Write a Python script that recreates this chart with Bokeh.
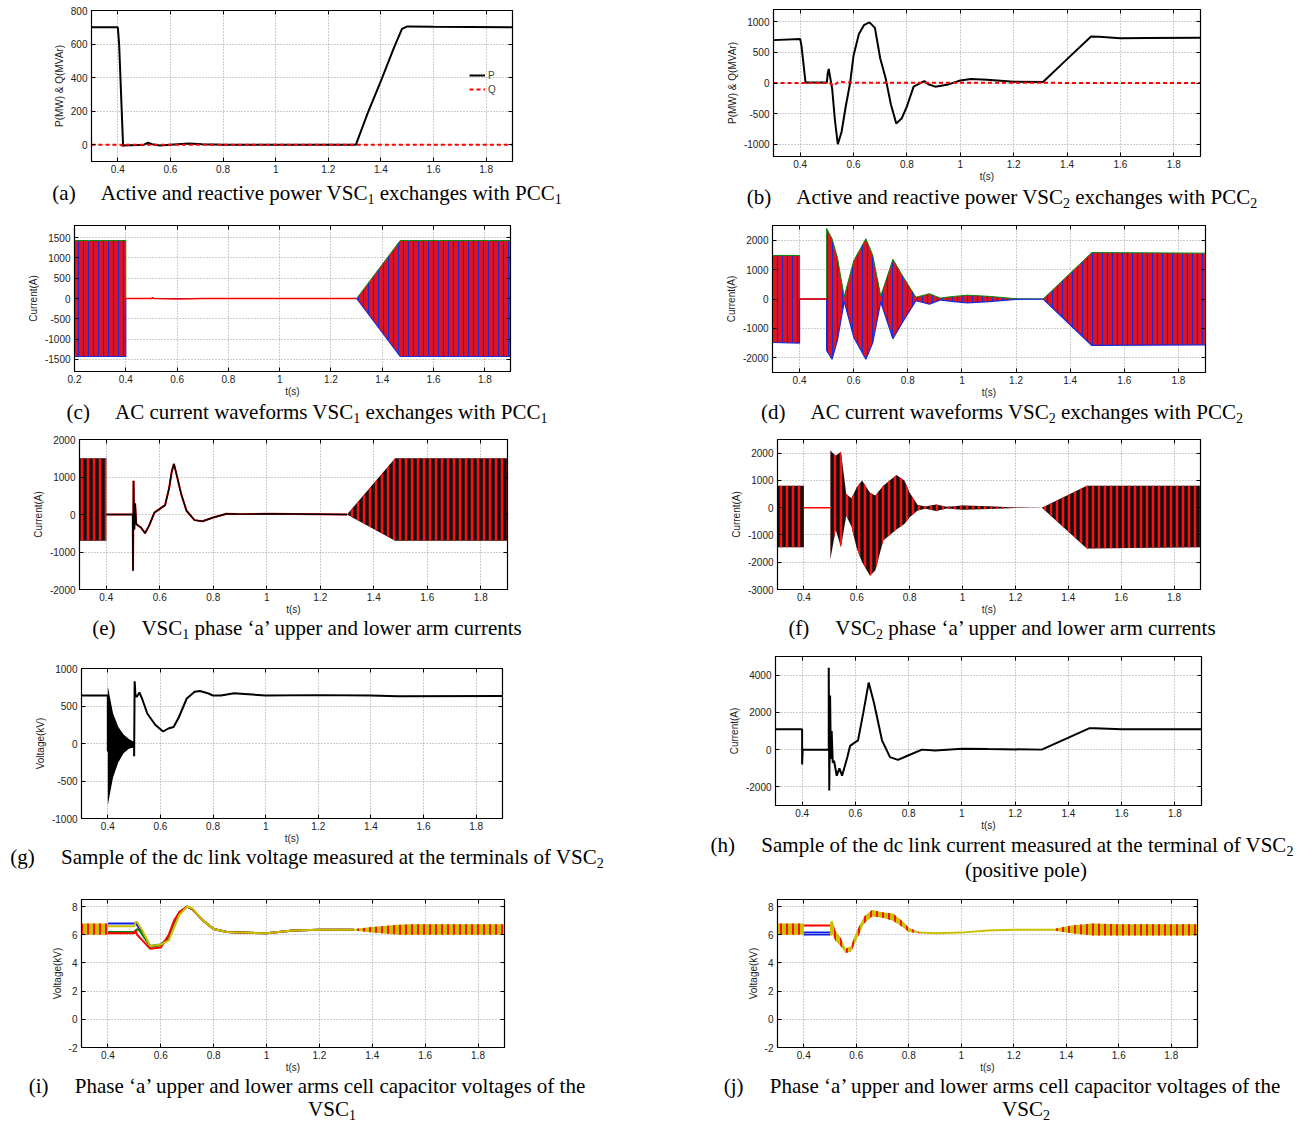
from bokeh.plotting import figure
from bokeh.layouts import column, row
from bokeh.models import Div, FixedTicker, Range1d, Spacer, LinearAxis
from bokeh.embed import file_html
from bokeh.resources import INLINE

# ---------------- tick labels ----------------
X_TICKS = [0.4, 0.6, 0.8, 1, 1.2, 1.4, 1.6, 1.8]
X_LABELS = ["0.4", "0.6", "0.8", "1", "1.2", "1.4", "1.6", "1.8"]
X_TICKS_C = [0.2, 0.4, 0.6, 0.8, 1, 1.2, 1.4, 1.6, 1.8]
X_LABELS_C = ["0.2", "0.4", "0.6", "0.8", "1", "1.2", "1.4", "1.6", "1.8"]

# ---------------- (a) VSC1 P & Q ----------------
a_t_P = [0.30, 0.400, 0.405, 0.420, 0.45, 0.50, 0.515, 0.53, 0.56, 0.60, 0.67, 0.72, 0.80, 1.00,
         1.305, 1.35, 1.40, 1.45, 1.48, 1.50, 1.60, 1.90]
a_P = [700, 700, 600, -5, -3, 0, 12, 3, -5, 0, 8, 3, 0, 0, 0, 190, 380, 580, 690, 705, 703, 700]
a_t_Q = [0.30, 0.41, 0.42, 0.43, 1.90]
a_Q = [0, 0, -8, 0, 0]

# ---------------- (b) VSC2 P & Q ----------------
b_t_P = [0.30, 0.40, 0.405, 0.42, 0.50, 0.503, 0.507, 0.512, 0.52, 0.53, 0.541, 0.555, 0.57, 0.587,
         0.60, 0.62, 0.64, 0.66, 0.68, 0.70, 0.72, 0.74, 0.76, 0.78, 0.80, 0.825, 0.865, 0.88, 0.906,
         0.95, 1.00, 1.04, 1.10, 1.20, 1.31, 1.40, 1.49, 1.52, 1.60, 1.70, 1.90]
b_P = [700, 720, 600, 10, 10, 150, 230, 100, -100, -600, -1000, -800, -400, 0,
       450, 800, 950, 990, 900, 400, 80, -350, -660, -580, -380, -60, 30, -20, -60,
       -30, 40, 65, 55, 20, 15, 390, 760, 755, 730, 735, 740]
b_t_Q = [0.30, 0.51, 0.52, 0.527, 0.535, 0.545, 0.56, 0.60, 1.90]
b_Q = [0, 0, -30, -45, -10, 25, 15, 5, 0]

# ---------------- (c) VSC1 AC currents (envelope) ----------------
c_t = [0.2, 0.4, 0.4, 1.3, 1.47, 1.9]
c_up = [1430, 1430, 0, 0, 1430, 1430]
c_lo = [-1430, -1430, 0, 0, -1430, -1430]
c_dc_t = [0.4, 0.5, 0.505, 0.51, 0.6, 0.7, 1.3]
c_dc = [0, 0, 20, 0, -10, 0, 0]

# ---------------- (d) VSC2 AC currents (envelope) ----------------
d_t = [0.30, 0.40, 0.40, 0.50, 0.50, 0.52, 0.54, 0.565, 0.60, 0.645, 0.67, 0.70, 0.745, 0.78,
       0.83, 0.88, 0.92, 0.96, 1.02, 1.10, 1.20, 1.30, 1.48, 1.90]
d_up = [1480, 1480, 0, 0, 2400, 2050, 1400, 80, 1300, 2050, 1500, 100, 1350, 800,
        60, 180, 30, 80, 130, 90, 10, 0, 1580, 1560]
d_lo = [-1480, -1500, 0, 0, -1750, -2050, -1400, -80, -1300, -2050, -1500, -100, -1350, -800,
        -60, -180, -30, -80, -130, -90, -10, 0, -1580, -1560]

# ---------------- (e) VSC1 arm currents ----------------
e_t = [0.30, 0.40, 0.40, 1.30, 1.48, 1.90]
e_up = [1500, 1500, 0, 0, 1500, 1500]
e_lo = [-700, -700, 0, 0, -700, -700]
e_dc_t = [0.40, 0.499, 0.500, 0.502, 0.505, 0.508, 0.512, 0.52, 0.53, 0.545, 0.56, 0.58, 0.60,
          0.62, 0.635, 0.645, 0.653, 0.66, 0.68, 0.70, 0.73, 0.76, 0.80, 0.85, 0.90, 1.00, 1.10, 1.30]
e_dc = [0, 0, -1500, 900, -400, 300, -250, -300, -350, -500, -300, 50, 150,
        250, 700, 1150, 1350, 1150, 550, 100, -150, -180, -80, 20, 10, 20, 15, 0]

# ---------------- (f) VSC2 arm currents ----------------
f_t = [0.30, 0.40, 0.40, 0.50, 0.50, 0.52, 0.54, 0.56, 0.58, 0.60, 0.62, 0.65, 0.67, 0.70, 0.75,
       0.78, 0.80, 0.83, 0.86, 0.90, 0.94, 1.00, 1.10, 1.20, 1.30, 1.47, 1.90]
f_up = [800, 800, 0, 0, 2100, 1900, 2050, 500, 350, 750, 1000, 550, 450, 800, 1200,
        1000, 550, 100, 40, 120, 30, 80, 50, 10, 0, 800, 800]
f_lo = [-1450, -1450, 0, 0, -1900, -800, -1450, -300, -700, -1500, -2000, -2500, -2300, -1200, -800,
        -600, -350, -100, -40, -120, -30, -80, -50, -10, 0, -1500, -1450]

# ---------------- (g) dc link voltage ----------------
g_t = [0.30, 0.40, 0.40, 0.50, 0.50, 0.502, 0.505, 0.51, 0.52, 0.53, 0.55, 0.58, 0.61, 0.63, 0.65,
       0.67, 0.70, 0.73, 0.75, 0.78, 0.80, 0.83, 0.88, 0.92, 1.00, 1.20, 1.40, 1.50, 1.90]
g_v = [640, 640, -100, -40, -170, 830, 650, 620, 680, 600, 400, 250, 160, 200, 220,
       350, 600, 690, 700, 670, 640, 640, 670, 660, 640, 645, 640, 630, 635]
g_band_t = [0.40, 0.42, 0.44, 0.46, 0.48, 0.50]
g_band_up = [760, 400, 220, 120, 60, 20]
g_band_lo = [-820, -450, -250, -130, -70, -40]

# ---------------- (h) dc link current ----------------
h_t = [0.30, 0.40, 0.40, 0.402, 0.50, 0.500, 0.502, 0.505, 0.508, 0.511, 0.515, 0.52, 0.53, 0.54,
       0.55, 0.57, 0.58, 0.60, 0.61, 0.63, 0.65, 0.67, 0.70, 0.73, 0.76, 0.80, 0.85, 0.90, 1.00,
       1.10, 1.30, 1.48, 1.50, 1.60, 1.90]
h_v = [1100, 1100, -800, 0, 0, 4400, -2200, 2900, -500, 1000, -700, -600, -1400, -1000,
       -1400, -400, 200, 400, 500, 2000, 3600, 2500, 500, -400, -550, -300, 0, -50, 50,
       30, 0, 1150, 1150, 1100, 1100]

# ---------------- (i) VSC1 capacitor voltages ----------------
i_band1_t = [0.30, 0.40]
i_band1_up = [6.8, 6.8]
i_band1_lo = [6.0, 6.0]
i_band2_t = [1.33, 1.40, 1.50, 1.55, 1.90]
i_band2_up = [6.4, 6.55, 6.7, 6.75, 6.75]
i_band2_lo = [6.3, 6.15, 6.0, 6.0, 6.0]
i_t = [0.40, 0.50, 0.505, 0.51, 0.52, 0.53, 0.56, 0.60, 0.63, 0.65, 0.67, 0.70, 0.72, 0.76,
       0.80, 0.85, 0.90, 1.00, 1.10, 1.20, 1.33]
i_blue = [6.8, 6.8, 6.85, 6.7, 6.4, 6.2, 5.2, 5.3, 5.8, 6.8, 7.5, 8.0, 7.8, 7.0, 6.4, 6.2, 6.15, 6.1, 6.3, 6.35, 6.35]
i_green = [6.2, 6.2, 6.3, 6.4, 6.3, 6.0, 5.15, 5.25, 5.8, 6.9, 7.6, 8.0, 7.8, 7.0, 6.4, 6.2, 6.15, 6.1, 6.3, 6.35, 6.35]
i_red = [6.1, 6.1, 6.3, 6.0, 5.8, 5.6, 5.0, 5.1, 6.0, 7.0, 7.6, 8.0, 7.8, 7.0, 6.4, 6.2, 6.15, 6.1, 6.3, 6.35, 6.35]
i_yellow = [6.6, 6.6, 6.9, 6.9, 6.6, 6.3, 5.2, 5.3, 5.6, 6.5, 7.4, 8.0, 7.85, 7.0, 6.4, 6.2, 6.15, 6.1, 6.3, 6.35, 6.35]

# ---------------- (j) VSC2 capacitor voltages ----------------
j_band1_t = [0.30, 0.40]
j_band1_up = [6.8, 6.8]
j_band1_lo = [6.0, 6.0]
j_flat_t = [0.40, 0.50]
j_flat_red = [6.65, 6.65]
j_flat_blue = [6.15, 6.15]
j_flat_green = [6.0, 6.0]
j_band2_t = [0.50, 0.51, 0.52, 0.54, 0.56, 0.58, 0.60, 0.63, 0.66, 0.70, 0.74, 0.78, 0.80, 0.84]
j_band2_up = [6.9, 7.0, 6.3, 5.8, 5.0, 5.2, 6.2, 7.3, 7.75, 7.6, 7.5, 6.9, 6.5, 6.2]
j_band2_lo = [5.9, 6.0, 5.6, 5.2, 4.7, 4.8, 5.6, 6.8, 7.3, 7.2, 7.0, 6.5, 6.2, 6.1]
j_mid_t = [0.84, 0.90, 1.00, 1.10, 1.20, 1.35]
j_mid = [6.15, 6.1, 6.15, 6.3, 6.35, 6.35]
j_band3_t = [1.35, 1.42, 1.50, 1.60, 1.90]
j_band3_up = [6.4, 6.65, 6.8, 6.75, 6.75]
j_band3_lo = [6.3, 6.1, 5.95, 5.95, 5.95]

# ---------------- y ticks ----------------
YT_A = [0, 200, 400, 600, 800]
YT_B = [-1000, -500, 0, 500, 1000]
YT_C = [-1500, -1000, -500, 0, 500, 1000, 1500]
YT_D = [-2000, -1000, 0, 1000, 2000]
YT_E = [-2000, -1000, 0, 1000, 2000]
YT_F = [-3000, -2000, -1000, 0, 1000, 2000]
YT_G = [-1000, -500, 0, 500, 1000]
YT_H = [-2000, 0, 2000, 4000]
YT_IJ = [-2, 0, 2, 4, 6, 8]

FONT = "Liberation Sans"
SERIF = "Liberation Serif"


def box_axis(ticks):
    ax = LinearAxis(ticker=FixedTicker(ticks=ticks),
                    major_label_overrides={t: "" for t in ticks},
                    major_label_text_font_size="1px", major_label_standoff=0,
                    major_tick_in=4, major_tick_out=0, minor_tick_line_color=None,
                    axis_line_color="black", major_tick_line_color="black")
    return ax


def make_fig(fw, fh, left, top, bottom, xr, yr, yticks, ylabel, xticks=X_TICKS, xlabels=X_LABELS,
             xlabel="t(s)"):
    p = figure(frame_width=fw, frame_height=fh, x_range=Range1d(*xr), y_range=Range1d(*yr),
               output_backend="svg", toolbar_location=None, title=None,
               min_border_left=left, min_border_right=6, min_border_top=top, min_border_bottom=bottom)
    p.outline_line_color = "black"
    p.outline_line_width = 1.2
    p.outline_line_alpha = 1
    p.background_fill_color = "white"
    p.border_fill_color = "white"
    p.xaxis.ticker = FixedTicker(ticks=xticks)
    p.xaxis.major_label_overrides = {t: l for t, l in zip(xticks, xlabels)}
    p.yaxis.ticker = FixedTicker(ticks=yticks)
    p.yaxis.major_label_overrides = {t: str(t) for t in yticks}
    for ax in (p.xaxis[0], p.yaxis[0]):
        ax.major_tick_in = 4
        ax.major_tick_out = 0
        ax.minor_tick_line_color = None
        ax.axis_line_color = "black"
        ax.major_tick_line_color = "black"
        ax.major_label_text_font = FONT
        ax.major_label_text_font_size = "10px"
        ax.major_label_text_color = "#222222"
        ax.axis_label_text_font = FONT
        ax.axis_label_text_font_size = "10px"
        ax.axis_label_text_font_style = "normal"
        ax.axis_label_text_color = "#222222"
    if xlabel:
        p.xaxis.axis_label = xlabel
    p.xaxis.major_label_standoff = 3
    p.xaxis.axis_label_standoff = 0
    p.yaxis.axis_label = ylabel
    p.yaxis.major_label_standoff = 4
    p.yaxis.axis_label_standoff = 3
    p.add_layout(box_axis(xticks), "above")
    p.add_layout(box_axis(yticks), "right")
    for g in (p.xgrid[0], p.ygrid[0]):
        g.grid_line_color = "#9a9a9a"
        g.grid_line_dash = "1 2"
        g.grid_line_width = 1
    return p


def band(p, x, up, lo, fill, hatch, scale=5, weight=2):
    p.varea(x=x, y1=lo, y2=up, fill_color=fill, fill_alpha=1,
            hatch_pattern="vertical_line", hatch_color=hatch, hatch_scale=scale, hatch_weight=weight)


# (a)
pa = make_fig(421, 151, 91, 10, 22, (0.3, 1.9), (-100, 800), YT_A, "P(MW) & Q(MVAr)", xlabel=None)
pa.line(a_t_P, a_P, line_color="black", line_width=2, legend_label="P")
pa.line(a_t_Q, a_Q, line_color="red", line_width=2, line_dash="4 3", legend_label="Q")
lg = pa.legend[0]
lg.location = (378, 66)
lg.border_line_color = None
lg.background_fill_alpha = 0
lg.label_text_font = FONT
lg.label_text_font_size = "10px"
lg.glyph_width = 16
lg.glyph_height = 12
lg.label_height = 12
lg.spacing = 2
lg.padding = 0
lg.margin = 0
lg.label_standoff = 3

# (b)
pb = make_fig(427, 147, 74, 9, 28, (0.3, 1.9), (-1200, 1200), YT_B, "P(MW) & Q(MVAr)")
pb.line(b_t_P, b_P, line_color="black", line_width=2)
pb.line(b_t_Q, b_Q, line_color="red", line_width=2, line_dash="4 3")

# (c)
pc = make_fig(436, 146, 74, 20, 30, (0.2, 1.9), (-1800, 1800), YT_C, "Current(A)",
              X_TICKS_C, X_LABELS_C)
band(pc, c_t, c_up, c_lo, "#ee1010", "#1a2ad8", 5, 1.3)
pc.line(c_t, c_up, line_color="#0a8a0a", line_width=1)
pc.line(c_t, c_lo, line_color="#1a2ad8", line_width=1.2)
pc.line(c_dc_t, c_dc, line_color="red", line_width=1.5)

# (d)
pd = make_fig(433, 147, 73, 14, 29, (0.3, 1.9), (-2500, 2500), YT_D, "Current(A)")
band(pd, d_t, d_up, d_lo, "#ee1010", "#1a2ad8", 5, 1.3)
pd.line(d_t, d_up, line_color="#0a8a0a", line_width=1)
pd.line(d_t, d_lo, line_color="#1a2ad8", line_width=1.2)
pd.line([0.4, 0.5], [0, 0], line_color="red", line_width=1.5)

# (e)
pe = make_fig(428, 150, 79, 16, 28, (0.3, 1.9), (-2000, 2000), YT_E, "Current(A)")
band(pe, e_t, e_up, e_lo, "#111111", "#ff1010", 6, 2.5)
pe.line(e_dc_t, e_dc, line_color="red", line_width=2)
pe.line(e_dc_t, e_dc, line_color="black", line_width=1.5)

# (f)
pf = make_fig(423, 150, 78, 16, 28, (0.3, 1.9), (-3000, 2500), YT_F, "Current(A)")
band(pf, f_t, f_up, f_lo, "#111111", "#ff1010", 6, 2.5)
pf.line([0.4, 0.5], [0, 0], line_color="red", line_width=1.5)

# (g)
pg = make_fig(421, 150, 81, 29, 28, (0.3, 1.9), (-1000, 1000), YT_G, "Voltage(kV)")
pg.varea(x=g_band_t, y1=g_band_lo, y2=g_band_up, fill_color="black")
pg.line(g_t, g_v, line_color="black", line_width=2)

# (h)
ph = make_fig(426, 149, 76, 17, 28, (0.3, 1.9), (-3000, 5000), YT_H, "Current(A)")
ph.line(h_t, h_v, line_color="black", line_width=2)

# (i)
pi = make_fig(423, 148, 81, 31, 28, (0.3, 1.9), (-2, 8.5), YT_IJ, "Voltage(kV)")
band(pi, i_band1_t, i_band1_up, i_band1_lo, "#c8c000", "#ff1010", 6, 2)
band(pi, i_band2_t, i_band2_up, i_band2_lo, "#c8c000", "#ff1010", 6, 2)
pi.line(i_t, i_blue, line_color="#1020e0", line_width=2)
pi.line(i_t, i_green, line_color="#008000", line_width=2)
pi.line(i_t, i_red, line_color="red", line_width=2)
pi.line(i_t, i_yellow, line_color="#c8c000", line_width=2)

# (j)
pj = make_fig(420, 148, 78, 16, 28, (0.3, 1.9), (-2, 8.5), YT_IJ, "Voltage(kV)")
band(pj, j_band1_t, j_band1_up, j_band1_lo, "#c8c000", "#ff1010", 6, 2)
pj.line(j_flat_t, j_flat_red, line_color="red", line_width=2)
pj.line(j_flat_t, j_flat_blue, line_color="#1020e0", line_width=2)
pj.line(j_flat_t, j_flat_green, line_color="#1020e0", line_width=1.5)
band(pj, j_band2_t, j_band2_up, j_band2_lo, "#c8c000", "#ff1010", 6, 2)
pj.line(j_mid_t, j_mid, line_color="#c8c000", line_width=2)
band(pj, j_band3_t, j_band3_up, j_band3_lo, "#c8c000", "#ff1010", 6, 2)

SUB = "<sub style='font-size:14px;line-height:0;vertical-align:-4px'>{}</sub>"
S1 = SUB.format("1")
S2 = SUB.format("2")


def cap(html, width, height, lh):
    return Div(text=html, width=width, height=height, margin=(0, 0, 0, 0),
               styles={"font-family": SERIF, "font-size": "21px", "text-align": "center",
                       "line-height": f"{lh}px", "white-space": "nowrap", "color": "black"})


SP = "&nbsp;&nbsp;&nbsp;&nbsp; "
LW, RW = 614, 606
cap_a = cap(f"(a){SP}Active and reactive power VSC{S1} exchanges with PCC{S1}", LW, 22, 20)
cap_c = cap(f"(c){SP}AC current waveforms VSC{S1} exchanges with PCC{S1}", LW, 22, 22)
cap_e = cap(f"(e){SP}VSC{S1} phase ‘a’ upper and lower arm currents", LW, 22, 22)
cap_g = cap(f"(g){SP}Sample of the dc link voltage measured at the terminals of VSC{S2}", LW, 22, 22)
cap_i = cap(f"(i){SP}Phase ‘a’ upper and lower arms cell capacitor voltages of the<br>"
            f"<span style='margin-left:50px'>VSC{S1}</span>", LW, 40, 23)
cap_b = cap(f"(b){SP}Active and reactive power VSC{S2} exchanges with PCC{S2}", RW, 27, 27)
cap_d = cap(f"(d){SP}AC current waveforms VSC{S2} exchanges with PCC{S2}", RW, 22, 22)
cap_f = cap(f"(f){SP}VSC{S2} phase ‘a’ upper and lower arm currents", RW, 22, 22)
cap_h = cap(f"(h){SP}Sample of the dc link current measured at the terminal of VSC{S2}<br>"
            f"<span style='margin-left:48px'>(positive pole)</span>", RW, 50, 25)
cap_j = cap(f"(j){SP}Phase ‘a’ upper and lower arms cell capacitor voltages of the<br>"
            f"<span style='margin-left:48px'>VSC{S2}</span>", RW, 40, 23)

left = column(column(pa, cap_a), column(pc, cap_c), column(pe, cap_e), column(pg, cap_g),
              column(pi, cap_i), spacing=0)
right = column(column(pb, cap_b), column(pd, cap_d), column(pf, cap_f), column(ph, cap_h),
               column(pj, cap_j), spacing=0)
layout = row(left, Spacer(width=85, height=10), right, spacing=0)

open("out.html", "w").write(file_html(layout, INLINE))
